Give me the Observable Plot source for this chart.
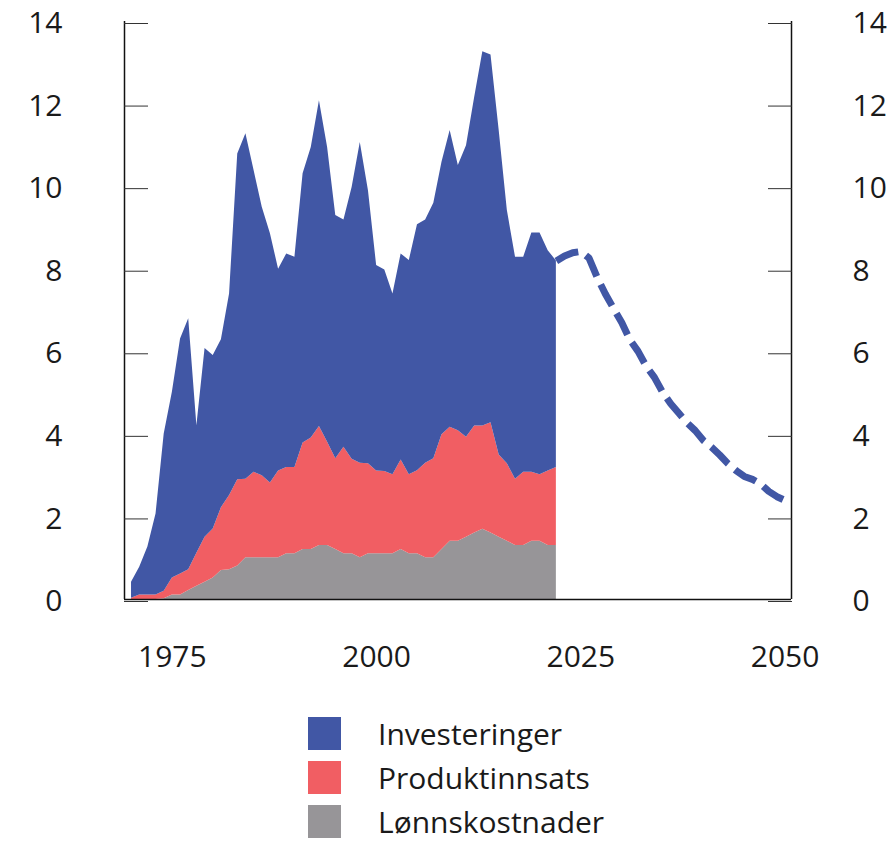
<!DOCTYPE html>
<html>
<head>
<meta charset="utf-8">
<script src="https://cdn.jsdelivr.net/npm/d3@7"></script>
<script src="https://cdn.jsdelivr.net/npm/@observablehq/plot@0.6"></script>
<style>
  body { margin: 0; background: #fff; font-family: "Open Sans", sans-serif; overflow: hidden; }
  #legend { margin-left: 308px; padding-top: 17px; }
  .row { display: flex; align-items: center; height: 33px; line-height: 33px; margin-bottom: 11px; font-size: 30px; color: #1a1a1a; }
  .sw { width: 33px; height: 33px; margin-right: 37px; flex: none; }
</style>
</head>
<body>
<div id="chart"></div>
<div id="legend"></div>
<script>
// ---- data ----
const years = [1970,1971,1972,1973,1974,1975,1976,1977,1978,1979,
  1980,1981,1982,1983,1984,1985,1986,1987,1988,1989,
  1990,1991,1992,1993,1994,1995,1996,1997,1998,1999,
  2000,2001,2002,2003,2004,2005,2006,2007,2008,2009,
  2010,2011,2012,2013,2014,2015,2016,2017,2018,2019,
  2020,2021,2022];

const lonnskostnader = [0,0,0,0,0.02,0.11,0.11,0.22,0.32,0.42,
  0.52,0.70,0.72,0.81,1.01,1.01,1.01,1.01,1.01,1.11,
  1.11,1.21,1.21,1.31,1.31,1.21,1.11,1.11,1.01,1.11,
  1.11,1.11,1.11,1.21,1.11,1.11,1.01,1.01,1.21,1.41,
  1.41,1.51,1.61,1.70,1.61,1.51,1.41,1.31,1.31,1.41,
  1.41,1.31,1.31];

const produktinnsats = [0.03,0.11,0.11,0.11,0.18,0.41,0.51,0.50,0.80,1.09,
  1.19,1.52,1.80,2.09,1.90,2.07,1.99,1.81,2.10,2.09,
  2.09,2.58,2.70,2.88,2.50,2.20,2.58,2.29,2.29,2.18,
  2.00,1.99,1.91,2.17,1.91,2.01,2.29,2.40,2.78,2.76,
  2.68,2.42,2.59,2.50,2.67,1.99,1.88,1.60,1.77,1.67,
  1.61,1.80,1.89];

const investeringer = [0.39,0.67,1.16,1.96,3.81,4.50,5.69,6.08,3.09,4.57,
  4.20,4.07,4.88,7.89,8.37,7.31,6.50,6.04,4.89,5.17,
  5.09,6.52,7.04,7.89,7.14,5.89,5.50,6.58,7.77,6.61,
  4.98,4.88,4.38,4.99,5.19,5.96,5.89,6.19,6.60,7.19,
  6.42,7.06,7.96,9.07,8.91,7.86,6.13,5.38,5.21,5.80,
  5.86,5.34,5.00];

const projYears = [2022,2023,2024,2025,2026,2027,2028,2029,2030,2031,
  2032,2033,2034,2035,2036,2037,2038,2039,2040,2041,
  2042,2043,2044,2045,2046,2047,2048,2049,2050];
const projValues = [8.20,8.32,8.40,8.43,8.27,7.80,7.40,7.05,6.71,6.29,
  6.01,5.65,5.38,5.02,4.74,4.51,4.28,4.09,3.85,3.69,
  3.50,3.29,3.12,2.98,2.91,2.80,2.62,2.49,2.40];

const seriesNames = ["Lønnskostnader", "Produktinnsats", "Investeringer"];
const seriesColors = ["#979598", "#f15e63", "#4157a5"];
const legendOrder = ["Investeringer", "Produktinnsats", "Lønnskostnader"];

const xTicks = [1975, 2000, 2025, 2050];
const yTicks = [0, 2, 4, 6, 8, 10, 12, 14];
const xDomain = [1969.14, 2050.78];
const yDomain = [0, 14];

// ---- build table ----
const rows = [];
years.forEach((yr, i) => {
  rows.push({year: yr, series: "Lønnskostnader", value: lonnskostnader[i]});
  rows.push({year: yr, series: "Produktinnsats", value: produktinnsats[i]});
  rows.push({year: yr, series: "Investeringer", value: investeringer[i]});
});
const proj = projYears.map((yr, i) => ({year: yr, value: projValues[i]}));

const chart = Plot.plot({
  width: 895,
  height: 700,
  marginTop: 21,
  marginBottom: 101,
  marginLeft: 124,
  marginRight: 104,
  style: {fontFamily: "'Open Sans', sans-serif", fontSize: "30px", color: "#1a1a1a", background: "white"},
  x: {domain: xDomain, axis: null},
  y: {domain: yDomain, axis: null},
  color: {domain: seriesNames, range: seriesColors},
  marks: [
    Plot.areaY(rows, {x: "year", y: "value", z: "series", fill: "series", order: seriesNames}),
    Plot.lineY(proj, {x: "year", y: "value", stroke: seriesColors[2], strokeWidth: 7, strokeDasharray: "24,9", strokeLinecap: "butt", strokeLinejoin: "miter"}),
    Plot.ruleX(xDomain, {y1: yDomain[0], y2: yDomain[1], stroke: "#111", strokeWidth: 1.5}),
    Plot.ruleY([0], {stroke: "#111", strokeWidth: 1.5}),
    Plot.axisY({anchor: "left", ticks: yTicks, tickSize: -24, tickPadding: 86, fontSize: 30, dy: 2, label: null, stroke: "#333"}),
    Plot.axisY({anchor: "right", ticks: yTicks, tickSize: -24, tickPadding: 85, fontSize: 30, dy: 2, label: null, stroke: "#333"}),
    Plot.axisX({ticks: xTicks, tickSize: 0, tickPadding: 46, fontSize: 30, tickFormat: d => String(d), label: null})
  ]
});
document.getElementById("chart").appendChild(chart);

const legend = document.getElementById("legend");
legendOrder.forEach(name => {
  const row = document.createElement("div");
  row.className = "row";
  const sw = document.createElement("div");
  sw.className = "sw";
  sw.style.background = seriesColors[seriesNames.indexOf(name)];
  const t = document.createElement("span");
  t.textContent = name;
  row.appendChild(sw);
  row.appendChild(t);
  legend.appendChild(row);
});
</script>
</body>
</html>
